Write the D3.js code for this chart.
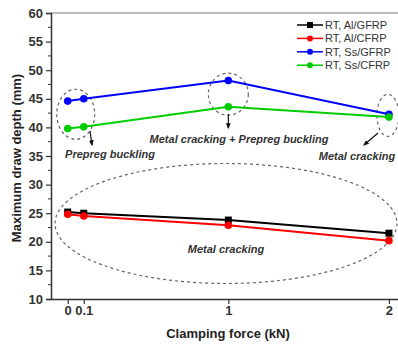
<!DOCTYPE html>
<html><head><meta charset="utf-8">
<script src="https://cdn.jsdelivr.net/npm/d3@7"></script>
<style>body{margin:0;background:#fff;} svg{display:block;}</style>
</head><body>
<script>
const xValues = [0, 0.1, 1, 2];
const seriesNames = ["RT, Al/GFRP", "RT, Al/CFRP", "RT, Ss/GFRP", "RT, Ss/CFRP"];
const alGfrp = [25.2, 25.0, 23.8, 21.5];
const alCfrp = [24.8, 24.5, 22.9, 20.2];
const ssGfrp = [44.6, 45.0, 48.2, 42.3];
const ssCfrp = [39.8, 40.1, 43.6, 41.8];
const colors = ["#000000", "#ff0000", "#0000ff", "#00cc00"];
const yTicks = [10, 15, 20, 25, 30, 35, 40, 45, 50, 55, 60];
const xTickLabels = ["0", "0.1", "1", "2"];

const W = 398, H = 345;
const svg = d3.select("body").append("svg").attr("width", W).attr("height", H);

const x = d3.scaleLinear().domain([-0.104, 2.1]).range([51, 405]);
const y = d3.scaleLinear().domain([10, 60]).range([299, 13]);

// frame top
svg.append("line").attr("x1", 51).attr("x2", 398).attr("y1", y(60)).attr("y2", y(60))
  .attr("stroke", "#aaa").attr("stroke-width", 1.5);

// y axis
const ya = svg.append("g").attr("transform", "translate(51,0)")
  .call(d3.axisLeft(y).tickValues(yTicks).tickSize(5).tickPadding(3));
ya.select(".domain").attr("stroke", "#333").attr("stroke-width", 1.5);
ya.selectAll(".tick line").attr("stroke", "#333").attr("stroke-width", 1.2);
ya.selectAll("text").attr("font-family", "Liberation Sans, Arial, sans-serif")
  .attr("font-weight", "bold").attr("font-size", 13).attr("fill", "#333");
// minor y ticks
svg.append("g").selectAll("line").data(d3.range(12.5, 60, 5)).join("line")
  .attr("x1", 48).attr("x2", 51).attr("y1", d => y(d)).attr("y2", d => y(d))
  .attr("stroke", "#333").attr("stroke-width", 1);

// x axis
const xa = svg.append("g").attr("transform", "translate(0,299)")
  .call(d3.axisBottom(x).tickValues(xValues).tickFormat((d, i) => xTickLabels[i]).tickSize(5).tickPadding(2).tickSizeOuter(0));
xa.select(".domain").attr("stroke", "#333").attr("stroke-width", 1.5);
xa.selectAll(".tick line").attr("stroke", "#333").attr("stroke-width", 1.2);
xa.selectAll("text").attr("font-family", "Liberation Sans, Arial, sans-serif")
  .attr("font-weight", "bold").attr("font-size", 13).attr("fill", "#333");

// titles
svg.append("text").attr("transform", "translate(21,158) rotate(-90)")
  .attr("text-anchor", "middle").attr("font-family", "Liberation Sans, Arial, sans-serif")
  .attr("font-weight", "bold").attr("font-size", 13).attr("fill", "#222")
  .text("Maximum draw depth (mm)");
svg.append("text").attr("x", 228).attr("y", 338)
  .attr("text-anchor", "middle").attr("font-family", "Liberation Sans, Arial, sans-serif")
  .attr("font-weight", "bold").attr("font-size", 13).attr("fill", "#222")
  .text("Clamping force (kN)");

// ellipses (dashed annotations)
const ell = svg.append("g").attr("fill", "none").attr("stroke", "#666")
  .attr("stroke-width", 1.2).attr("stroke-dasharray", "3,3");
ell.append("ellipse").attr("cx", x(0.05)).attr("cy", y(42.3)).attr("rx", 19).attr("ry", 25);
ell.append("ellipse").attr("cx", x(1)).attr("cy", y(45.8)).attr("rx", 20).attr("ry", 21);
ell.append("ellipse").attr("cx", x(2) - 1).attr("cy", y(42.1)).attr("rx", 11).attr("ry", 21);
ell.append("ellipse").attr("cx", 226).attr("cy", y(23.2)).attr("rx", 171).attr("ry", 60);

// arrows
svg.append("defs").append("marker").attr("id", "ah").attr("viewBox", "0 0 10 10")
  .attr("refX", 8).attr("refY", 5).attr("markerWidth", 5).attr("markerHeight", 5)
  .attr("orient", "auto").append("path").attr("d", "M0,1 L10,5 L0,9 Z").attr("fill", "#111");
const arr = svg.append("g").attr("stroke", "#111").attr("stroke-width", 1.2);
arr.append("line").attr("x1", 90).attr("y1", 131).attr("x2", 92).attr("y2", 145).attr("marker-end", "url(#ah)");
arr.append("line").attr("x1", x(1)).attr("y1", 114).attr("x2", x(1)).attr("y2", 128).attr("marker-end", "url(#ah)");
arr.append("line").attr("x1", 378).attr("y1", 133).attr("x2", 364).attr("y2", 145).attr("marker-end", "url(#ah)");

// annotation texts
const ann = [["Prepreg buckling", 110, 158], ["Metal cracking + Prepreg buckling", 239, 143],
  ["Metal cracking", 357, 160], ["Metal cracking", 226, 253]];
svg.append("g").selectAll("text").data(ann).join("text")
  .attr("x", d => d[1]).attr("y", d => d[2]).attr("text-anchor", "middle")
  .attr("font-family", "Liberation Sans, Arial, sans-serif").attr("font-style", "italic")
  .attr("font-weight", "bold").attr("font-size", 11).attr("fill", "#333").text(d => d[0]);

// series
const all = [alGfrp, alCfrp, ssGfrp, ssCfrp];
const line = d3.line().x((d, i) => x(xValues[i])).y(d => y(d));
all.forEach((vals, s) => {
  const g = svg.append("g");
  g.append("path").datum(vals).attr("d", line).attr("fill", "none")
    .attr("stroke", colors[s]).attr("stroke-width", 2);
  if (s === 0) {
    g.selectAll("rect").data(vals).join("rect")
      .attr("x", (d, i) => x(xValues[i]) - 3.5).attr("y", d => y(d) - 3.5)
      .attr("width", 7).attr("height", 7).attr("fill", colors[s]);
  } else {
    g.selectAll("circle").data(vals).join("circle")
      .attr("cx", (d, i) => x(xValues[i])).attr("cy", d => y(d)).attr("r", 3.8).attr("fill", colors[s]);
  }
});

// legend
const leg = svg.append("g");
seriesNames.forEach((n, i) => {
  const ly = 25 + i * 13.4;
  leg.append("line").attr("x1", 297).attr("x2", 323).attr("y1", ly).attr("y2", ly)
    .attr("stroke", colors[i]).attr("stroke-width", 1.5);
  if (i === 0) leg.append("rect").attr("x", 307).attr("y", ly - 3).attr("width", 6).attr("height", 6).attr("fill", colors[i]);
  else leg.append("circle").attr("cx", 310).attr("cy", ly).attr("r", 3).attr("fill", colors[i]);
  leg.append("text").attr("x", 325).attr("y", ly + 4).attr("font-family", "Liberation Sans, Arial, sans-serif")
    .attr("font-size", 11).attr("fill", "#333").text(n);
});
</script>
</body></html>
